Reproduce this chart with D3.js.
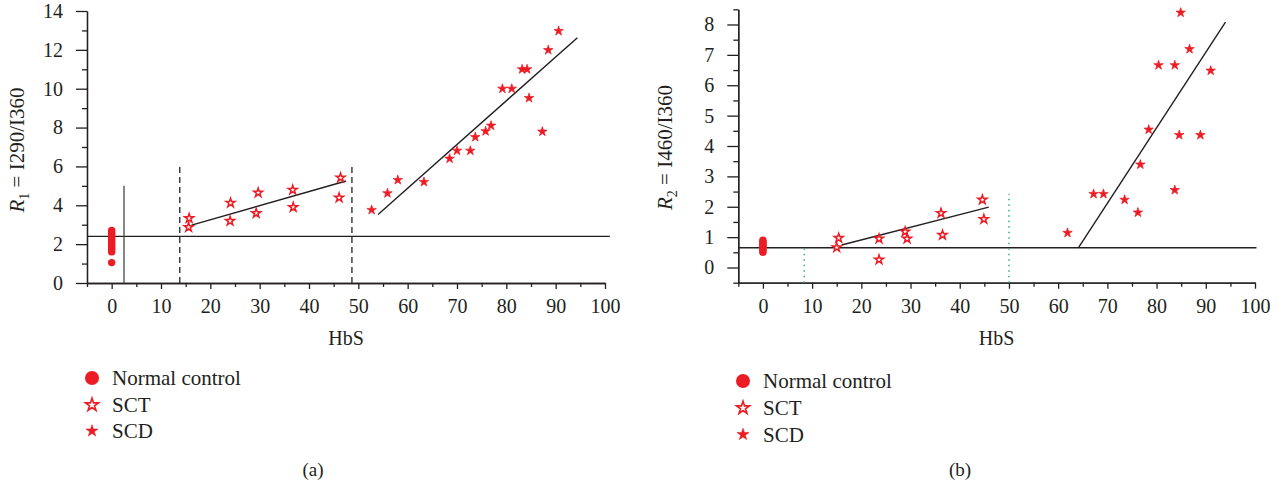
<!DOCTYPE html>
<html>
<head>
<meta charset="utf-8">
<script src="https://cdn.jsdelivr.net/npm/d3@7"></script>
<style>
	body { margin: 0; background: #fff; }
	svg { display: block; font-family: 'Liberation Serif', 'DejaVu Serif', serif; }
</style>
</head>
<body>
<div id="chart"></div>
<script>
// panel (a): R1 = I290/I360
const normalR1 = [1.05, 1.6, 1.7, 1.8, 1.9, 2.0, 2.1, 2.2, 2.3, 2.4, 2.5, 2.6, 2.7];
const sctHbSA = [15.7, 15.6, 24.1, 24.0, 29.7, 29.3, 36.7, 36.8, 46.4, 46.1];
const sctR1 = [3.33, 2.87, 4.12, 3.19, 4.65, 3.59, 4.79, 3.90, 5.42, 4.39];
const scdHbSA = [52.7, 55.9, 58.0, 63.3, 68.5, 70.0, 72.7, 73.7, 75.8, 76.9, 79.2, 81.1, 83.2, 84.2, 84.6, 87.3, 88.5, 90.6];
const scdR1 = [3.76, 4.62, 5.30, 5.20, 6.40, 6.81, 6.81, 7.51, 7.81, 8.10, 10.0, 10.0, 11.0, 11.0, 9.52, 7.79, 11.99, 12.97];
const fitSctA = [[16.2, 2.98], [47.5, 5.25]];
const fitScdA = [[54.0, 3.53], [94.4, 12.62]];
const cutoffR1 = 2.4;

// panel (b): R2 = I460/I360
const normalR2 = [0.5, 0.55, 0.6, 0.65, 0.7, 0.75, 0.8, 0.85, 0.9];
const sctHbSB = [15.4, 15.0, 23.6, 23.6, 28.9, 29.3, 36.2, 36.5, 44.6, 44.9];
const sctR2 = [0.97, 0.66, 0.95, 0.26, 1.18, 0.95, 1.79, 1.07, 2.23, 1.59];
const scdHbSB = [61.9, 67.2, 69.2, 73.5, 76.2, 76.7, 78.4, 80.4, 83.7, 83.7, 84.6, 84.9, 86.7, 88.9, 91.0];
const scdR2 = [1.14, 2.42, 2.42, 2.23, 1.81, 3.39, 4.54, 6.66, 6.66, 2.55, 4.36, 8.39, 7.19, 4.36, 6.48];
const fitSctB = [[16.0, 0.74], [45.9, 1.99]];
const fitScdB = [[64.1, 0.65], [94.0, 8.08]];
const cutoffR2 = 0.65;

const xTicks = [0, 10, 20, 30, 40, 50, 60, 70, 80, 90, 100];
const xMinorTicks = [-5, 5, 15, 25, 35, 45, 55, 65, 75, 85, 95];
const yTicksA = [0, 2, 4, 6, 8, 10, 12, 14];
const yMinorA = [1, 3, 5, 7, 9, 11, 13];
const yTicksB = [0, 1, 2, 3, 4, 5, 6, 7, 8];
const yMinorB = [-0.5, 0.5, 1.5, 2.5, 3.5, 4.5, 5.5, 6.5, 7.5, 8.5];
const legendLabels = ['Normal control', 'SCT', 'SCD'];

const RED = '#ed1c24';
const INK = '#231f20';

const svg = d3.select('#chart').append('svg')
	.attr('width', 1281)
	.attr('height', 487);

const starPath = function (r) {
	return d3.symbol().type(d3.symbolStar).size(r * r / 0.8908130915292852)();
}

const drawPanel = function (opt) {
	let x = d3.scaleLinear().domain([-5, 100]).range(opt.xRange);
	let y = d3.scaleLinear().domain(opt.yDomain).range(opt.yRange);
	let g = svg.append('g');

	// axes
	g.append('g')
		.attr('transform', `translate(0,${opt.yRange[0]})`)
		.call(d3.axisBottom(x).tickValues(xTicks).tickSize(6).tickSizeOuter(0).tickPadding(10));
	g.append('g')
		.attr('transform', `translate(0,${opt.yRange[0]})`)
		.call(d3.axisBottom(x).tickValues(xMinorTicks).tickSize(4).tickSizeOuter(0).tickFormat(''));
	g.append('g')
		.attr('transform', `translate(${opt.xRange[0]},0)`)
		.call(d3.axisLeft(y).tickValues(opt.yTicks).tickSize(11).tickSizeOuter(0).tickPadding(13));
	g.append('g')
		.attr('transform', `translate(${opt.xRange[0]},0)`)
		.call(d3.axisLeft(y).tickValues(opt.yMinor).tickSize(5).tickSizeOuter(0).tickFormat(''));

	g.selectAll('.domain, .tick line')
		.attr('stroke', INK)
		.attr('stroke-width', 1.3);
	g.selectAll('.tick text')
		.attr('fill', INK)
		.style('font-size', '20px')
		.style('font-family', "'Liberation Serif', serif");

	// axis titles
	g.append('text')
		.attr('x', (opt.xRange[0] + opt.xRange[1]) / 2)
		.attr('y', opt.yRange[0] + 62)
		.attr('text-anchor', 'middle')
		.attr('fill', INK)
		.style('font-size', '20px')
		.text('HbS');

	let ylab = g.append('text')
		.attr('transform', `translate(${opt.yLabelX},${opt.yLabelY}) rotate(-90)`)
		.attr('text-anchor', 'middle')
		.attr('fill', INK)
		.style('font-size', '21px');
	ylab.append('tspan').style('font-style', 'italic').text('R');
	ylab.append('tspan').attr('dy', 5).style('font-size', '14px').text(opt.sub);
	ylab.append('tspan').attr('dy', -5).text(' = ' + opt.ratio);

	// reference lines
	g.append('line')
		.attr('x1', x(-5)).attr('x2', x(opt.cutoffEnd))
		.attr('y1', y(opt.cutoff)).attr('y2', y(opt.cutoff))
		.attr('stroke', INK).attr('stroke-width', 1.3);

	opt.vlines.forEach(v => {
		g.append('line')
			.attr('x1', x(v.x)).attr('x2', x(v.x))
			.attr('y1', y(v.y0)).attr('y2', y(v.y1))
			.attr('stroke', v.color)
			.attr('stroke-width', v.width)
			.attr('stroke-dasharray', v.dash);
	});

	let line = d3.line().x(d => x(d[0])).y(d => y(d[1]));
	[opt.fitSct, opt.fitScd].forEach(f => {
		g.append('path')
			.attr('d', line(f))
			.attr('fill', 'none')
			.attr('stroke', INK)
			.attr('stroke-width', 1.4);
	});

	// points
	g.selectAll('.normal')
		.data(opt.normal)
		.enter().append('circle')
		.attr('cx', x(0))
		.attr('cy', d => y(d))
		.attr('r', 3.7)
		.attr('fill', RED);

	g.selectAll('.sct')
		.data(opt.sctX)
		.enter().append('path')
		.attr('d', starPath(4.7))
		.attr('transform', (d, i) => `translate(${x(d)},${y(opt.sctY[i])})`)
		.attr('fill', '#fff')
		.attr('stroke', RED)
		.attr('stroke-width', 1.5);

	g.selectAll('.scd')
		.data(opt.scdX)
		.enter().append('path')
		.attr('d', starPath(5))
		.attr('transform', (d, i) => `translate(${x(d)},${y(opt.scdY[i])})`)
		.attr('fill', RED)
		.attr('stroke', RED)
		.attr('stroke-width', 0.7);

	// legend
	let legend = g.selectAll('.legend')
		.data(legendLabels)
		.enter().append('g')
		.attr('transform', (d, i) => `translate(${opt.legendX},${opt.legendY[i]})`);

	legend.each(function (d, i) {
		let item = d3.select(this);
		if (i == 0) {
			item.append('circle').attr('cy', -7).attr('r', 7).attr('fill', RED);
		} else if (i == 1) {
			item.append('path').attr('d', starPath(6.8)).attr('transform', 'translate(0,-7)')
				.attr('fill', '#fff').attr('stroke', RED).attr('stroke-width', 1.6);
		} else {
			item.append('path').attr('d', starPath(6.3)).attr('transform', 'translate(0,-7)')
				.attr('fill', RED).attr('stroke', RED).attr('stroke-width', 0.6);
		}
		item.append('text')
			.attr('x', 20)
			.attr('fill', INK)
			.style('font-size', '21px')
			.text(d);
	});

	g.append('text')
		.attr('x', opt.tagX)
		.attr('y', 476)
		.attr('text-anchor', 'middle')
		.attr('fill', INK)
		.style('font-size', '19px')
		.text(opt.tag);
}

drawPanel({
	xRange: [87, 605],
	yDomain: [0, 14],
	yRange: [283, 11],
	yTicks: yTicksA,
	yMinor: yMinorA,
	yLabelX: 24,
	yLabelY: 150,
	sub: '1',
	ratio: 'I290/I360',
	cutoff: cutoffR1,
	cutoffEnd: 101,
	vlines: [
		{ x: 2.5, y0: 0, y1: 5, color: '#444', width: 1.3, dash: null },
		{ x: 13.8, y0: 0, y1: 6, color: '#333', width: 1.4, dash: '6,4' },
		{ x: 48.7, y0: 0, y1: 6, color: '#333', width: 1.4, dash: '6,4' }
	],
	fitSct: fitSctA,
	fitScd: fitScdA,
	normal: normalR1,
	sctX: sctHbSA, sctY: sctR1,
	scdX: scdHbSA, scdY: scdR1,
	legendX: 92,
	legendY: [385, 412, 438],
	tagX: 313,
	tag: '(a)'
});

drawPanel({
	xRange: [738.3, 1255],
	yDomain: [-0.5, 8.5],
	yRange: [282.7, 9.3],
	yTicks: yTicksB,
	yMinor: yMinorB,
	yLabelX: 672,
	yLabelY: 147.5,
	sub: '2',
	ratio: 'I460/I360',
	cutoff: cutoffR2,
	cutoffEnd: 100.3,
	vlines: [
		{ x: 8.4, y0: -0.5, y1: 0.65, color: '#2bb673', width: 1.5, dash: '1.5,4' },
		{ x: 50, y0: -0.5, y1: 2.43, color: '#2bb673', width: 1.5, dash: '1.5,4' }
	],
	fitSct: fitSctB,
	fitScd: fitScdB,
	normal: normalR2,
	sctX: sctHbSB, sctY: sctR2,
	scdX: scdHbSB, scdY: scdR2,
	legendX: 743,
	legendY: [388, 415, 441.5],
	tagX: 960,
	tag: '(b)'
});
</script>
</body>
</html>
